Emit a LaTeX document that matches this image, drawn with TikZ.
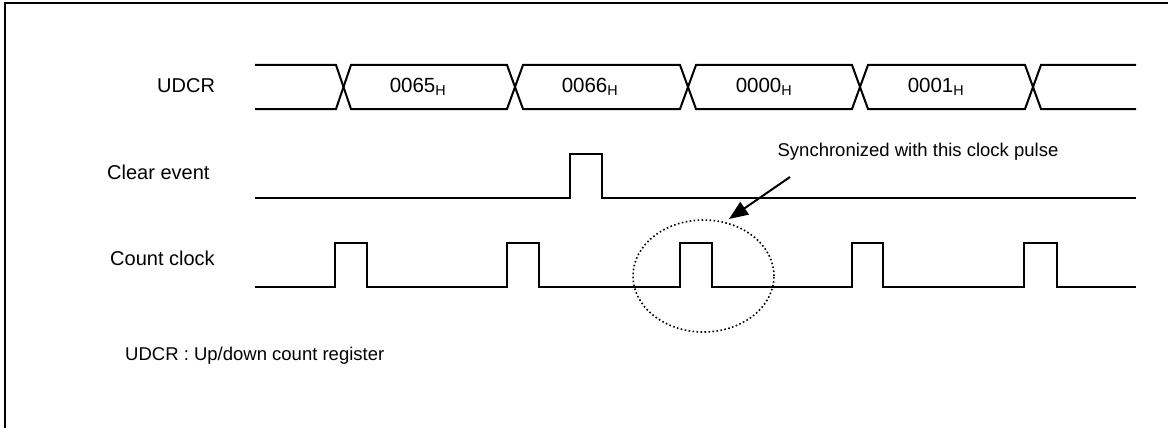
\documentclass[tikz,border=0pt]{standalone}
\usepackage{fontspec}
\setmainfont{Liberation Sans}
\usetikzlibrary{shapes.geometric,arrows.meta}
\begin{document}
\begin{tikzpicture}[x=1pt,y=-1pt,
  wave/.style={line width=2pt,line join=miter},
  lbl/.style={font=\fontsize{20}{22}\selectfont,inner sep=0pt,anchor=west},
  val/.style={font=\fontsize{20.5}{22}\selectfont,inner sep=0pt},
  note/.style={font=\fontsize{18.5}{20}\selectfont,inner sep=0pt}]
\useasboundingbox (0,0) rectangle (1168,428);
\draw[line width=2pt] (5,440) -- (5,3) -- (1180,3);
% labels
\node[lbl] (lu) at (157,86) {UDCR};
\node[lbl] (lc) at (107,172) {Clear event};
\node[lbl] (lk) at (110,258) {Count clock};
\node[lbl,font=\fontsize{18.5}{20}\selectfont] (ln) at (125,356) {UDCR : Up/down count register};
% UDCR bus
\def\yt{65}\def\yb{109}
\draw[wave] (255,\yt) -- (336,\yt) -- (351,\yb) -- (507,\yb) -- (523,\yt) -- (680,\yt) -- (696,\yb) -- (852,\yb) -- (868,\yt) -- (1025,\yt) -- (1041,\yb) -- (1136,\yb);
\draw[wave] (255,\yb) -- (336,\yb) -- (351,\yt) -- (507,\yt) -- (523,\yb) -- (680,\yb) -- (696,\yt) -- (852,\yt) -- (868,\yb) -- (1025,\yb) -- (1041,\yt) -- (1136,\yt);
\node[val] (v1) at (418,87) {0065\textsubscript{H}};
\node[val] (v2) at (590,87) {0066\textsubscript{H}};
\node[val] (v3) at (764,87) {0000\textsubscript{H}};
\node[val] (v4) at (936,87) {0001\textsubscript{H}};
% Clear event
\draw[wave] (255,198) -- (570,198) -- (570,154) -- (602,154) -- (602,198) -- (1136,198);
% Count clock
\draw[wave] (255,287)
  -- (335,287) -- (335,243) -- (367,243) -- (367,287)
  -- (507,287) -- (507,243) -- (539,243) -- (539,287)
  -- (680,287) -- (680,243) -- (712,243) -- (712,287)
  -- (852,287) -- (852,243) -- (883,243) -- (883,287)
  -- (1024,287) -- (1024,243) -- (1057,243) -- (1057,287)
  -- (1136,287);
% annotation
\node[ellipse,draw,line width=1.6pt,dash pattern=on 1.6pt off 2.4pt,minimum width=141pt,minimum height=112pt,inner sep=0pt] (ring) at (703.5,276) {};
\node[note] (sync) at (918,152) {Synchronized with this clock pulse};
\coordinate (as) at (790,177);
\coordinate (at) at (729,219);
\draw[line width=2pt,-{Triangle[length=19pt,width=15pt]}] (as) -- (at);
\end{tikzpicture}
\end{document}
